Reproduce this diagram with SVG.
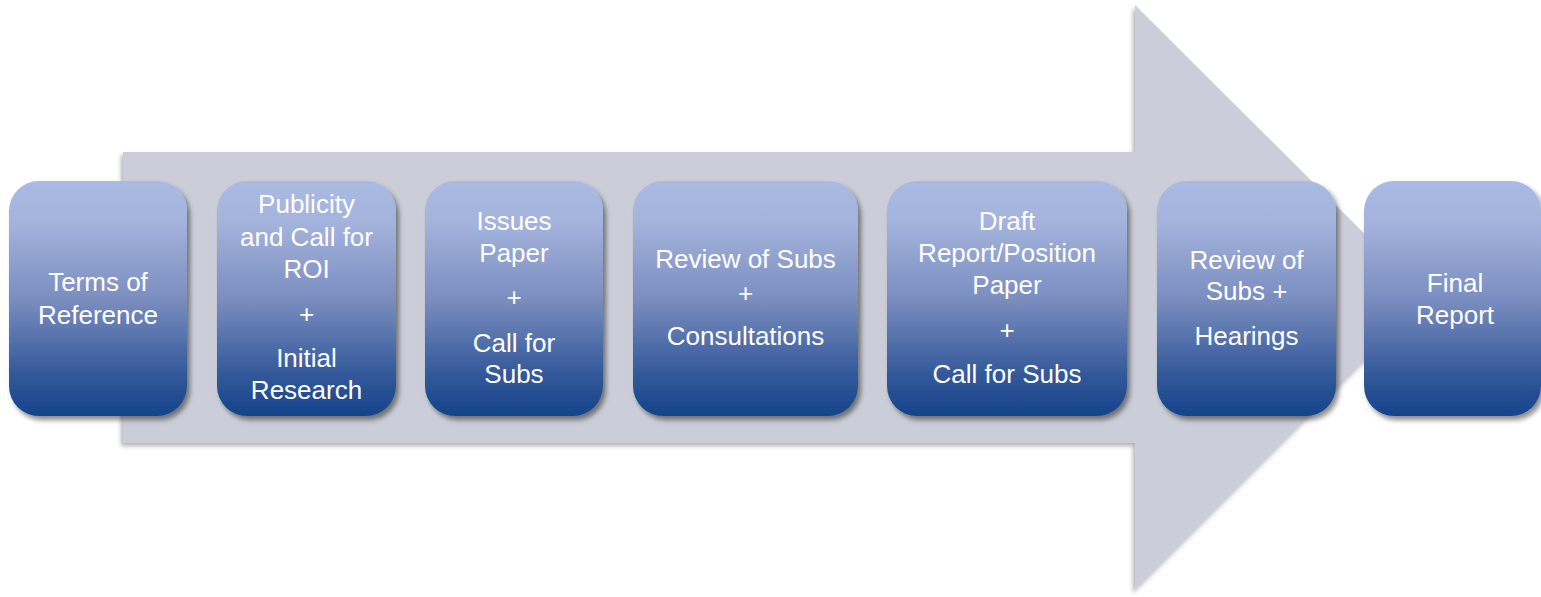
<svg xmlns="http://www.w3.org/2000/svg" width="1541" height="597" viewBox="0 0 1541 597">
  <defs>
    <linearGradient id="boxGrad" x1="0" y1="0" x2="0" y2="1">
      <stop offset="0" stop-color="#aabbe3"/>
      <stop offset="0.18" stop-color="#a3b3dc"/>
      <stop offset="0.5" stop-color="#7b8ec0"/>
      <stop offset="0.82" stop-color="#34599a"/>
      <stop offset="1" stop-color="#15438a"/>
    </linearGradient>
    <filter id="boxShadow" x="-10%" y="-10%" width="125%" height="125%">
      <feDropShadow dx="3" dy="4" stdDeviation="2.5" flood-color="#000" flood-opacity="0.45"/>
    </filter>
    <filter id="arrowShadow" x="-5%" y="-5%" width="110%" height="110%">
      <feDropShadow dx="-2" dy="3" stdDeviation="2" flood-color="#000" flood-opacity="0.3"/>
    </filter>
    <style>
      .box { fill: url(#boxGrad); filter: url(#boxShadow); }
      .lbl { font-family: "Liberation Sans", Arial, sans-serif; font-size: 26px; fill: #ffffff; text-anchor: middle; }
    </style>
  </defs>

  <g id="connectors">
    <polygon id="big-arrow" points="123,152 1135,152 1135,5 1428,297 1135,590 1135,443 123,443" fill="#cbced8" filter="url(#arrowShadow)"/>
  </g>

  <g id="node-terms">
    <rect class="box" x="9" y="181" width="178" height="235" rx="30" ry="30"/>
    <text class="lbl" x="98" y="291">Terms of</text>
    <text class="lbl" x="98" y="324">Reference</text>
  </g>

  <g id="node-publicity">
    <rect class="box" x="217" y="181" width="179" height="235" rx="30" ry="30"/>
    <text class="lbl" x="306.5" y="213">Publicity</text>
    <text class="lbl" x="306.5" y="246">and Call for</text>
    <text class="lbl" x="306.5" y="278">ROI</text>
    <text class="lbl" x="306.5" y="323">+</text>
    <text class="lbl" x="306.5" y="367">Initial</text>
    <text class="lbl" x="306.5" y="399">Research</text>
  </g>

  <g id="node-issues">
    <rect class="box" x="425" y="181" width="178" height="235" rx="30" ry="30"/>
    <text class="lbl" x="514" y="230">Issues</text>
    <text class="lbl" x="514" y="262">Paper</text>
    <text class="lbl" x="514" y="306">+</text>
    <text class="lbl" x="514" y="352">Call for</text>
    <text class="lbl" x="514" y="383">Subs</text>
  </g>

  <g id="node-review">
    <rect class="box" x="633" y="181" width="225" height="235" rx="30" ry="30"/>
    <text class="lbl" x="745.5" y="268">Review of Subs</text>
    <text class="lbl" x="745.5" y="302">+</text>
    <text class="lbl" x="745.5" y="345">Consultations</text>
  </g>

  <g id="node-draft">
    <rect class="box" x="887" y="181" width="240" height="235" rx="30" ry="30"/>
    <text class="lbl" x="1007" y="230">Draft</text>
    <text class="lbl" x="1007" y="262">Report/Position</text>
    <text class="lbl" x="1007" y="294">Paper</text>
    <text class="lbl" x="1007" y="339">+</text>
    <text class="lbl" x="1007" y="383">Call for Subs</text>
  </g>

  <g id="node-hearings">
    <rect class="box" x="1157" y="181" width="179" height="235" rx="30" ry="30"/>
    <text class="lbl" x="1246.5" y="269">Review of</text>
    <text class="lbl" x="1246.5" y="300">Subs +</text>
    <text class="lbl" x="1246.5" y="345">Hearings</text>
  </g>

  <g id="node-final">
    <rect class="box" x="1364" y="181" width="177" height="235" rx="30" ry="30"/>
    <text class="lbl" x="1455" y="292">Final</text>
    <text class="lbl" x="1455" y="324">Report</text>
  </g>
</svg>
